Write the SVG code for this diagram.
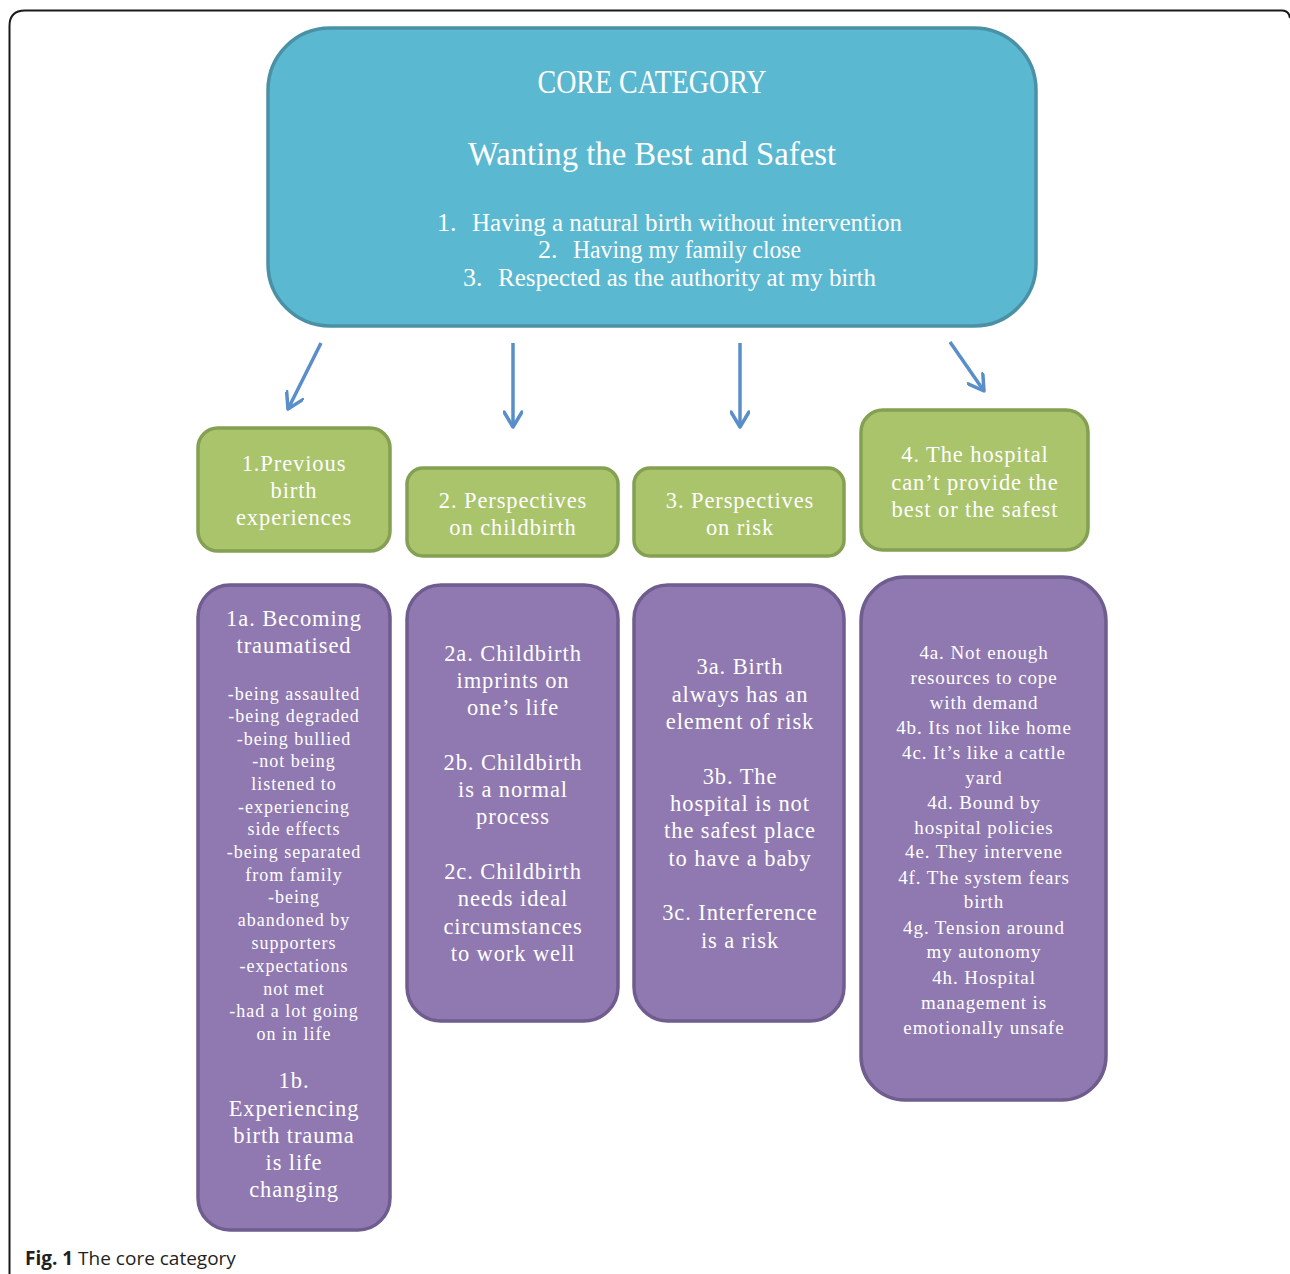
<svg xmlns="http://www.w3.org/2000/svg" width="1290" height="1274" viewBox="0 0 1290 1274">
<defs>
<style>
.frame{fill:none;stroke:#1a1a1a;stroke-width:2}
.core{fill:#5BB8D1;stroke:#4A91A6;stroke-width:3.5}
.green{fill:#AAC46C;stroke:#84A052;stroke-width:3.5}
.purple{fill:#9079B1;stroke:#6E5D8E;stroke-width:3.5}
.conn{stroke:#5A8ECB;stroke-width:3.5;fill:none}
text{fill:#ffffff;font-family:"Liberation Serif","Times New Roman",serif;text-anchor:middle}
.tc{font-size:33px}
.tw{font-size:34px}
.tl{font-size:26px;text-anchor:start}
.g{font-size:22.5px;letter-spacing:0.9px}
.pb{font-size:22.5px;letter-spacing:0.9px}
.ps{font-size:18px;letter-spacing:1px}
.p4{font-size:19px;letter-spacing:0.9px}
.cap{fill:#231F20;font-family:"Open Sans","Liberation Sans",sans-serif;font-size:19px;text-anchor:start}
</style>
<marker id="chev" viewBox="0 0 20 20" refX="17" refY="10" markerWidth="20" markerHeight="20" markerUnits="userSpaceOnUse" orient="auto">
<path d="M2,1 L17,10 L2,19" fill="none" stroke="#5A8ECB" stroke-width="3.5" stroke-linecap="round" stroke-linejoin="round"/>
</marker>
</defs>
<rect x="0" y="0" width="1290" height="1274" fill="#ffffff"/>
<path class="frame" d="M9.5,1274 L9.5,26 Q9.5,10.5 25,10.5 L1282,10.5 Q1289,10.5 1290,18"/>

<g id="core">
<rect class="core" x="268" y="28" width="768" height="298" rx="62"/>
<text class="tc" x="652" y="93" textLength="229" lengthAdjust="spacingAndGlyphs">CORE CATEGORY</text>
<text class="tw" x="652" y="165" textLength="368" lengthAdjust="spacingAndGlyphs">Wanting the Best and Safest</text>
<text class="tl" x="437" y="231">1.</text>
<text class="tl" x="472" y="231" textLength="430" lengthAdjust="spacingAndGlyphs">Having a natural birth without intervention</text>
<text class="tl" x="538" y="258">2.</text>
<text class="tl" x="573" y="258" textLength="228" lengthAdjust="spacingAndGlyphs">Having my family close</text>
<text class="tl" x="463" y="286">3.</text>
<text class="tl" x="498" y="286" textLength="378" lengthAdjust="spacingAndGlyphs">Respected as the authority at my birth</text>
</g>

<g id="connectors">
<line class="conn" x1="321" y1="343" x2="288" y2="409" marker-end="url(#chev)"/>
<line class="conn" x1="513" y1="343" x2="513" y2="427" marker-end="url(#chev)"/>
<line class="conn" x1="740" y1="343" x2="740" y2="427" marker-end="url(#chev)"/>
<line class="conn" x1="950" y1="342" x2="984" y2="391" marker-end="url(#chev)"/>
</g>

<g id="cat1">
<rect class="green" x="198" y="428" width="192" height="123" rx="20"/>
<text class="g" x="294" y="471">1.Previous</text>
<text class="g" x="294" y="498">birth</text>
<text class="g" x="294" y="525">experiences</text>
</g>
<g id="cat2">
<rect class="green" x="407" y="468" width="211" height="88" rx="16"/>
<text class="g" x="513" y="508">2. Perspectives</text>
<text class="g" x="513" y="535">on childbirth</text>
</g>
<g id="cat3">
<rect class="green" x="634" y="468" width="210" height="88" rx="16"/>
<text class="g" x="740" y="508">3. Perspectives</text>
<text class="g" x="740" y="535">on risk</text>
</g>
<g id="cat4">
<rect class="green" x="861" y="410" width="227" height="140" rx="22"/>
<text class="g" x="975" y="462">4. The hospital</text>
<text class="g" x="975" y="490">can’t provide the</text>
<text class="g" x="975" y="517">best or the safest</text>
</g>

<g id="sub1">
<rect class="purple" x="198" y="585" width="192" height="645" rx="32"/>
<text class="pb" x="294" y="626">1a. Becoming</text>
<text class="pb" x="294" y="653">traumatised</text>
<text class="ps" x="294" y="700">-being assaulted</text>
<text class="ps" x="294" y="722">-being degraded</text>
<text class="ps" x="294" y="745">-being bullied</text>
<text class="ps" x="294" y="767">-not being</text>
<text class="ps" x="294" y="790">listened to</text>
<text class="ps" x="294" y="813">-experiencing</text>
<text class="ps" x="294" y="835">side effects</text>
<text class="ps" x="294" y="858">-being separated</text>
<text class="ps" x="294" y="881">from family</text>
<text class="ps" x="294" y="903">-being</text>
<text class="ps" x="294" y="926">abandoned by</text>
<text class="ps" x="294" y="949">supporters</text>
<text class="ps" x="294" y="972">-expectations</text>
<text class="ps" x="294" y="995">not met</text>
<text class="ps" x="294" y="1017">-had a lot going</text>
<text class="ps" x="294" y="1040">on in life</text>
<text class="pb" x="294" y="1088">1b.</text>
<text class="pb" x="294" y="1116">Experiencing</text>
<text class="pb" x="294" y="1143">birth trauma</text>
<text class="pb" x="294" y="1170">is life</text>
<text class="pb" x="294" y="1197">changing</text>
</g>

<g id="sub2">
<rect class="purple" x="407" y="585" width="211" height="436" rx="34"/>
<text class="pb" x="513" y="661">2a. Childbirth</text>
<text class="pb" x="513" y="688">imprints on</text>
<text class="pb" x="513" y="715">one’s life</text>
<text class="pb" x="513" y="770">2b. Childbirth</text>
<text class="pb" x="513" y="797">is a normal</text>
<text class="pb" x="513" y="824">process</text>
<text class="pb" x="513" y="879">2c. Childbirth</text>
<text class="pb" x="513" y="906">needs ideal</text>
<text class="pb" x="513" y="934">circumstances</text>
<text class="pb" x="513" y="961">to work well</text>
</g>

<g id="sub3">
<rect class="purple" x="634" y="585" width="210" height="436" rx="34"/>
<text class="pb" x="740" y="674">3a. Birth</text>
<text class="pb" x="740" y="702">always has an</text>
<text class="pb" x="740" y="729">element of risk</text>
<text class="pb" x="740" y="784">3b. The</text>
<text class="pb" x="740" y="811">hospital is not</text>
<text class="pb" x="740" y="838">the safest place</text>
<text class="pb" x="740" y="866">to have a baby</text>
<text class="pb" x="740" y="920">3c. Interference</text>
<text class="pb" x="740" y="948">is a risk</text>
</g>

<g id="sub4">
<rect class="purple" x="861" y="577" width="245" height="523" rx="44"/>
<text class="p4" x="984" y="659">4a. Not enough</text>
<text class="p4" x="984" y="684">resources to cope</text>
<text class="p4" x="984" y="709">with demand</text>
<text class="p4" x="984" y="734">4b. Its not like home</text>
<text class="p4" x="984" y="759">4c. It’s like a cattle</text>
<text class="p4" x="984" y="784">yard</text>
<text class="p4" x="984" y="809">4d. Bound by</text>
<text class="p4" x="984" y="834">hospital policies</text>
<text class="p4" x="984" y="858">4e. They intervene</text>
<text class="p4" x="984" y="884">4f. The system fears</text>
<text class="p4" x="984" y="908">birth</text>
<text class="p4" x="984" y="934">4g. Tension around</text>
<text class="p4" x="984" y="958">my autonomy</text>
<text class="p4" x="984" y="984">4h. Hospital</text>
<text class="p4" x="984" y="1009">management is</text>
<text class="p4" x="984" y="1034">emotionally unsafe</text>
</g>

<text class="cap" x="25" y="1265"><tspan font-weight="bold">Fig. 1</tspan> The core category</text>
</svg>
